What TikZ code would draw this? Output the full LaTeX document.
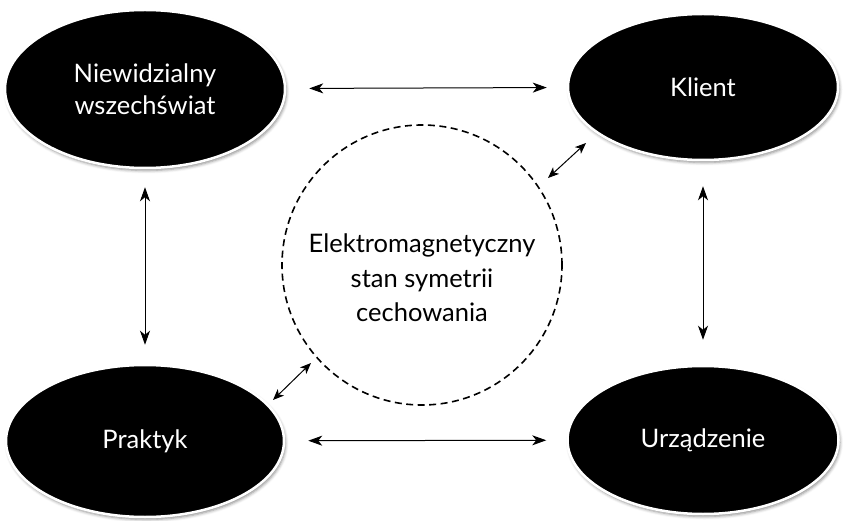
\documentclass[tikz,border=0pt]{standalone}
\usepackage{fontspec}
\setmainfont{Lato}
\usetikzlibrary{shapes.geometric, arrows.meta, shadows.blur}

\begin{document}
\begin{tikzpicture}[x=1pt, y=-1pt,
  blob/.style={ellipse, fill=black, draw=white, line width=2.5pt, text=white,
    inner sep=0pt, minimum width=276pt, minimum height=152pt, align=center,
    font=\fontsize{25.5}{32}\selectfont,
    blur shadow={shadow xshift=1.5pt, shadow yshift=-2.5pt, shadow blur radius=3pt, shadow opacity=45}},
  ring/.style={circle, draw=black, dashed, dash pattern=on 7pt off 4.5pt, line width=1.6pt,
    minimum size=280pt, inner sep=0pt},
  biarrow/.style={{Stealth[length=14pt, width=10pt, inset=4pt]}-{Stealth[length=14pt, width=10pt, inset=4pt]}, line width=1pt},
  smallarrow/.style={{Stealth[length=11pt, width=9pt, inset=3pt]}-{Stealth[length=11pt, width=9pt, inset=3pt]}, line width=1pt}]
\useasboundingbox (0, 0) rectangle (843, 521);
\node [blob, minimum width=280pt, minimum height=158pt] (niew) at (145, 89) {Niewidzialny\\wszechświat};
\node [blob, minimum width=270pt, minimum height=146pt] (klient) at (703, 87) {Klient};
\node [blob, minimum width=278pt, minimum height=152pt] (praktyk) at (145, 441) {Praktyk};
\node [blob, minimum width=271pt, minimum height=148pt] (urz) at (703, 440) {Urządzenie};
\node [ring] (circ) at (422, 265) {};
%Text
\node [align=center, font=\fontsize{25.5}{34.5}\selectfont] (label) at (422, 278) {Elektromagnetyczny\\stan symetrii\\cechowania};
%Arrows
\draw [biarrow, shorten <=23pt, shorten >=20pt] (niew) -- (klient);
\draw [biarrow, shorten <=23pt, shorten >=20pt] (praktyk) -- (urz);
\draw [biarrow, shorten <=18pt, shorten >=19pt] (niew) -- (praktyk);
\draw [biarrow, shorten <=25pt, shorten >=25pt] (klient) -- (urz);
\coordinate (ka) at (548, 178);
\coordinate (kb) at (586, 143);
\coordinate (pa) at (273, 400);
\coordinate (pb) at (311, 363);
\draw [smallarrow] (ka) -- (kb);
\draw [smallarrow] (pa) -- (pb);
\end{tikzpicture}
\end{document}
